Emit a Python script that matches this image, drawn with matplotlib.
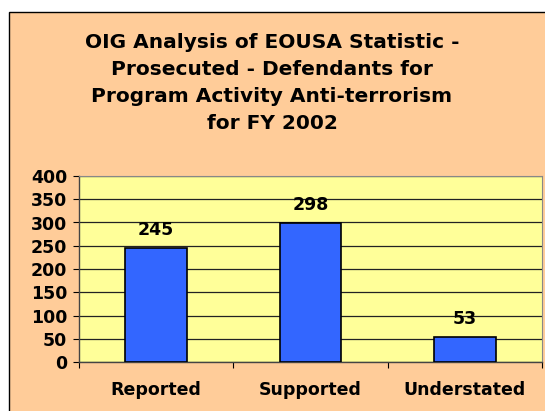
import matplotlib.pyplot as plt
from matplotlib.patches import Rectangle
import numpy as np

# Chart data
categories = ['Reported', 'Supported', 'Understated']
defendants = [245, 298, 53]
y_ticks = [0, 50, 100, 150, 200, 250, 300, 350, 400]
title = ('OIG Analysis of EOUSA Statistic -\n'
         'Prosecuted - Defendants for\n'
         'Program Activity Anti-terrorism\n'
         'for FY 2002')

W, H = 545, 411
fig = plt.figure(figsize=(W / 100, H / 100), dpi=100, facecolor='white')

# Orange chart panel with black frame (runs off the right/bottom edges)
panel = Rectangle((9 / W, -0.05), 1.1, 1 - 12 / H + 0.05, transform=fig.transFigure,
                  facecolor='#FFCC99', edgecolor='black', linewidth=1, zorder=-5)
fig.patches.append(panel)

fig.text(272 / W, 1 - 83 / H, title, ha='center', va='center',
         fontsize=14.5, fontweight='bold', linespacing=1.52)

ax = fig.add_axes([79 / W, 1 - 362 / H, (542 - 79) / W, (362 - 176) / H])
ax.set_facecolor('#FFFF99')

x = np.arange(len(categories))
bars = ax.bar(x, defendants, width=0.4, color='#3366FF', edgecolor='black',
              linewidth=1.2, zorder=3)

for xi, v in zip(x, defendants):
    ax.annotate(str(v), (xi, v), textcoords='offset points', xytext=(0, 13),
                ha='center', va='center', fontsize=12.5, fontweight='bold')

ax.set_xlim(-0.5, len(categories) - 0.5)
ax.set_ylim(0, 400)
ax.set_yticks(y_ticks)
ax.set_yticklabels([str(t) for t in y_ticks], fontsize=12.5, fontweight='bold')
ax.yaxis.grid(True, color='#222222', linewidth=0.9)
ax.set_axisbelow(True)

ax.set_xticks(x)
ax.set_xticklabels(categories, fontsize=12.5, fontweight='bold')
ax.tick_params(axis='x', which='major', length=0, pad=14)
ax.set_xticks(np.arange(len(categories) + 1) - 0.5, minor=True)
ax.tick_params(axis='x', which='minor', length=4, width=0.8, direction='out')
ax.tick_params(axis='y', length=4.5, width=0.8, direction='out', pad=4)

for side in ['top', 'right']:
    ax.spines[side].set_color('#888888')
for side in ['left', 'bottom']:
    ax.spines[side].set_color('#444444')
    ax.spines[side].set_linewidth(1)

fig.savefig('out.png', dpi=100)
